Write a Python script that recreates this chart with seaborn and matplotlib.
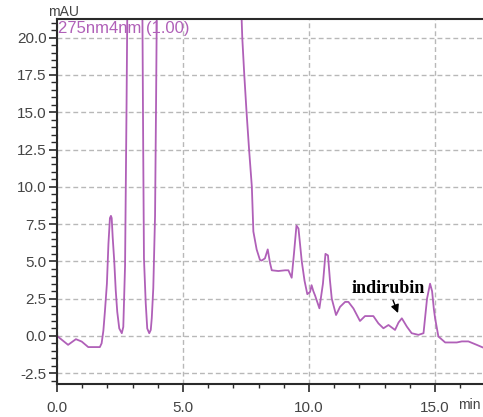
import numpy as np
import pandas as pd
import seaborn as sns
import matplotlib.pyplot as plt
from matplotlib.ticker import MultipleLocator, FormatStrFormatter

# Chromatogram trace, 275 nm detection (retention time in min, absorbance in mAU)
time_min = [
    0.00, 0.44, 0.75, 0.98, 1.24, 1.70, 1.77, 1.84, 1.90, 1.98, 2.04, 2.10, 2.14,
    2.17, 2.21, 2.27, 2.33, 2.39, 2.47, 2.57, 2.63, 2.70, 2.76, 2.80, 3.10, 3.38,
    3.42, 3.45, 3.52, 3.58, 3.66, 3.72, 3.76, 3.82, 3.89, 3.93, 3.97, 4.20, 5.50,
    7.00, 7.30, 7.35, 7.43, 7.52, 7.62, 7.73, 7.79, 7.92, 8.05, 8.12, 8.25, 8.36,
    8.45, 8.52, 8.78, 9.05, 9.18, 9.31, 9.40, 9.50, 9.58, 9.71, 9.82, 9.93, 10.04,
    10.10, 10.17, 10.24, 10.41, 10.55, 10.65, 10.75, 10.83, 10.90, 11.07, 11.23,
    11.43, 11.56, 11.76, 12.02, 12.22, 12.55, 12.75, 12.95, 13.15, 13.41, 13.55,
    13.68, 13.88, 14.07, 14.34, 14.54, 14.68, 14.80, 14.88, 14.95, 15.00, 15.13,
    15.40, 15.86, 16.06, 16.32, 16.65, 16.90,
]
absorbance_mau = [
    0.00, -0.60, -0.22, -0.38, -0.75, -0.75, -0.50, 0.35, 1.62, 3.50, 6.16, 7.90, 8.05,
    7.90, 6.60, 5.05, 3.06, 1.62, 0.50, 0.18, 0.60, 4.70, 15.6, 24.0, 45.0, 24.0,
    12.6, 5.20, 2.20, 0.50, 0.18, 0.40, 1.20, 3.20, 8.05, 15.6, 24.0, 60.0, 45.0,
    30.0, 22.5, 20.0, 17.5, 15.0, 12.5, 10.0, 7.00, 5.80, 5.10, 5.05, 5.20, 5.80,
    4.90, 4.40, 4.35, 4.40, 4.40, 3.90, 5.50, 7.40, 7.20, 5.00, 3.70, 2.80, 2.95,
    3.40, 3.00, 2.70, 1.85, 3.50, 5.50, 5.40, 3.70, 2.50, 1.40, 1.95,
    2.28, 2.28, 1.84, 1.00, 1.33, 1.33, 0.84, 0.51, 0.73, 0.40, 0.90,
    1.18, 0.62, 0.18, 0.07, 0.18, 2.50, 3.50, 3.00, 1.80, 1.18, -0.04,
    -0.44, -0.44, -0.37, -0.37, -0.60, -0.78,
]

# Peak annotation
peak_label = "indirubin"
label_pos = (13.13, 3.19)
arrow_tail = (13.33, 2.39)
arrow_head = (13.53, 1.53)

trace_name = "275nm4nm (1.00)"
x_ticks = [0.0, 5.0, 10.0, 15.0]

df = pd.DataFrame({"time": time_min, "mAU": absorbance_mau})

sns.set_style("white")
plt.rcParams["font.family"] = ["Liberation Sans", "DejaVu Sans"]

fig = plt.figure(figsize=(4.83, 4.17), dpi=100)
ax = fig.add_axes([0.118, 0.079, 0.882, 0.875])

line_color = "#b060b8"
sns.lineplot(data=df, x="time", y="mAU", ax=ax, color=line_color,
             linewidth=1.3, estimator=None, sort=False)

ax.set_xlim(0, 16.9)
ax.set_ylim(-3.23, 21.24)

ax.set_xticks(x_ticks)
ax.xaxis.set_minor_locator(MultipleLocator(1.0))
ax.yaxis.set_major_locator(MultipleLocator(2.5))
ax.yaxis.set_minor_locator(MultipleLocator(0.5))
ax.xaxis.set_major_formatter(FormatStrFormatter("%.1f"))
ax.yaxis.set_major_formatter(FormatStrFormatter("%.1f"))

ax.grid(True, which="major", color="#b8b8b8", linestyle=(0, (3.5, 2.2)), linewidth=1.0)

spine_color = "#2a2a2a"
for side in ("left", "bottom", "top"):
    ax.spines[side].set_color(spine_color)
    ax.spines[side].set_linewidth(1.5)
ax.spines["right"].set_visible(False)

ax.tick_params(which="both", left=True, bottom=True, top=False, right=False)
ax.tick_params(axis="both", which="major", direction="out", colors=spine_color,
               labelcolor="#444444", labelsize=11, width=1.2)
ax.tick_params(axis="y", which="major", length=6, pad=1.5)
ax.tick_params(axis="y", which="minor", direction="out", length=4, width=1.0,
               colors=spine_color)
ax.tick_params(axis="x", which="major", length=6, pad=6)
ax.tick_params(axis="x", which="minor", direction="out", length=3, width=1.0,
               colors=spine_color)

ax.set_xlabel("")
ax.set_ylabel("")

fig.text(0.131, 1 - 12 / 417, "mAU", ha="center", va="center",
         fontsize=10, color="#444444")
fig.text(0.948, 1 - 405 / 417, "min", ha="left", va="center",
         fontsize=10, color="#444444")

ax.text(0.003, 0.975, trace_name, transform=ax.transAxes, ha="left", va="center",
        fontsize=12, color=line_color)

ax.text(label_pos[0], label_pos[1], peak_label, ha="center", va="center",
        fontsize=13, fontweight="bold", family=["Liberation Serif", "DejaVu Serif"],
        color="black")
ax.annotate("", xy=arrow_head, xytext=arrow_tail,
            arrowprops=dict(arrowstyle="-|>", color="black", lw=1.0,
                            mutation_scale=12, shrinkA=0, shrinkB=0))

fig.savefig("out.png", dpi=100)
